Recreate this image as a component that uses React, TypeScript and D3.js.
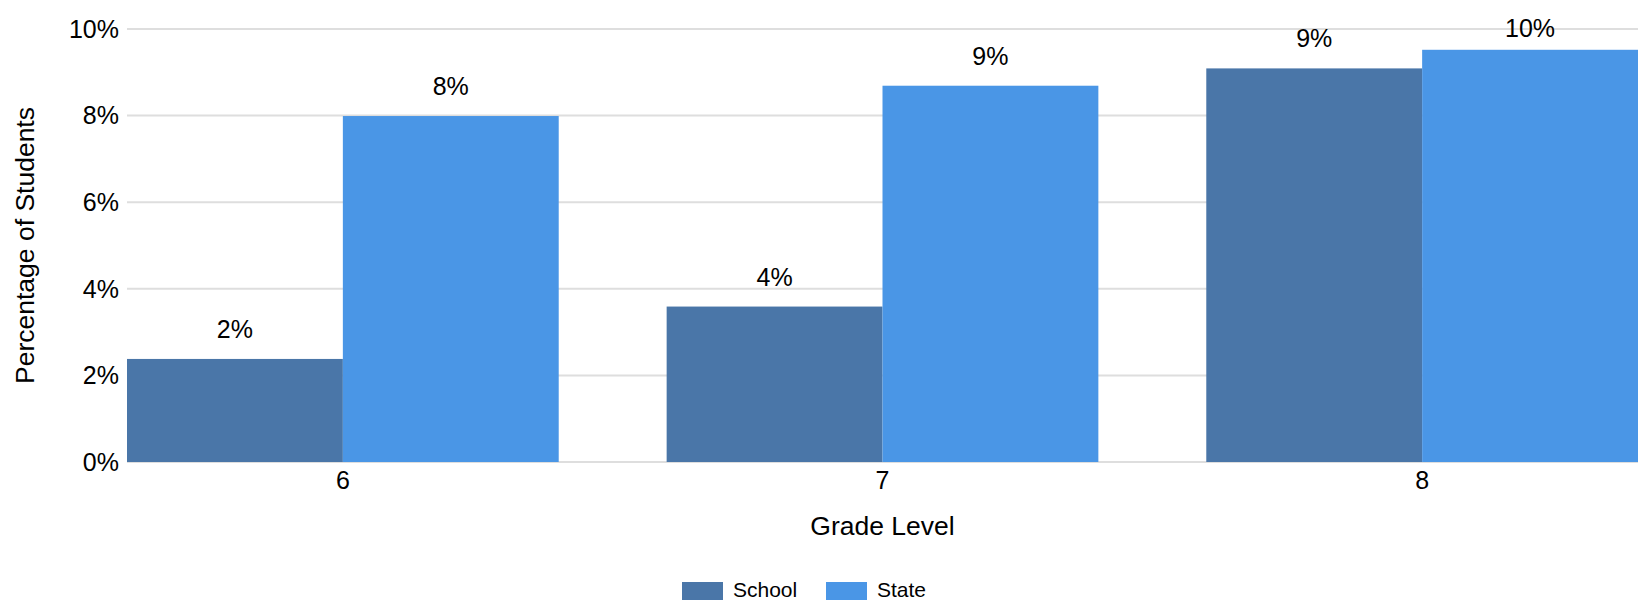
import * as d3 from 'd3';

const grades = ['6', '7', '8'];
const seriesNames = ['School', 'State'];
const schoolValues = [2.38, 3.59, 9.09];
const stateValues = [7.99, 8.69, 9.52];
const yTicks = [0, 2, 4, 6, 8, 10];

const colors: Record<string, string> = { School: '#4a76a8', State: '#4a96e6' };
const font = 'Arial, "Liberation Sans", sans-serif';

const width = 1648;
const height = 613;
const margin = { top: 29, right: 10, bottom: 151, left: 127 };

const App = () => {
  const x0 = d3.scaleBand<string>()
    .domain(grades)
    .range([margin.left, width - margin.right])
    .paddingInner(0.2)
    .paddingOuter(0);
  const x1 = d3.scaleBand<string>()
    .domain(seriesNames)
    .range([0, x0.bandwidth()]);
  const y = d3.scaleLinear()
    .domain([0, 10])
    .range([height - margin.bottom, margin.top]);

  const rows = grades.map((g, i) => ({
    grade: g,
    values: [
      { key: 'School', value: schoolValues[i] },
      { key: 'State', value: stateValues[i] },
    ],
  }));

  const plotCenter = (margin.left + width - margin.right) / 2;

  return (
    <div style={{ position: 'fixed', left: 0, top: 0 }}>
      <svg width={width} height={height} style={{ display: 'block', background: '#fff' }}>
        {/* gridlines */}
        {yTicks.map(t => (
          <line key={t} x1={margin.left} x2={width - margin.right} y1={y(t)} y2={y(t)}
            stroke="#dedede" strokeWidth={2} />
        ))}
        {/* y tick labels */}
        {yTicks.map(t => (
          <text key={'t' + t} x={margin.left - 8} y={y(t)} dy="0.35em" textAnchor="end"
            fontFamily={font} fontSize={25} fill="#000">{t}%</text>
        ))}
        {/* bars */}
        {rows.map(r => (
          <g key={r.grade} transform={`translate(${x0(r.grade)},0)`}>
            {r.values.map(v => (
              <rect key={v.key} x={x1(v.key)} y={y(v.value)} width={x1.bandwidth()}
                height={y(0) - y(v.value)} fill={colors[v.key]} />
            ))}
            {r.values.map(v => (
              <text key={'l' + v.key} x={(x1(v.key) ?? 0) + x1.bandwidth() / 2}
                y={Math.max(y(v.value) - 21, 37)} textAnchor="middle"
                fontFamily={font} fontSize={25} fill="#000">
                {d3.format('.0f')(v.value)}%
              </text>
            ))}
          </g>
        ))}
        {/* x tick labels */}
        {grades.map(g => (
          <text key={'x' + g} x={(x0(g) ?? 0) + x0.bandwidth() / 2} y={489} textAnchor="middle"
            fontFamily={font} fontSize={25} fill="#000">{g}</text>
        ))}
        {/* axis titles */}
        <text x={plotCenter} y={535} textAnchor="middle" fontFamily={font} fontSize={26.5} fill="#000">
          Grade Level
        </text>
        <text transform={`translate(25,${(y(0) + y(10)) / 2}) rotate(-90)`} dy="0.35em"
          textAnchor="middle" fontFamily={font} fontSize={26.5} fill="#000">
          Percentage of Students
        </text>
        {/* legend */}
        <g transform="translate(682,582)">
          {seriesNames.map((s, i) => (
            <g key={s} transform={`translate(${i * 144},0)`}>
              <rect width={41} height={18} fill={colors[s]} />
              <text x={51} y={15} fontFamily={font} fontSize={21} fill="#000">{s}</text>
            </g>
          ))}
        </g>
      </svg>
    </div>
  );
};

export default App;
